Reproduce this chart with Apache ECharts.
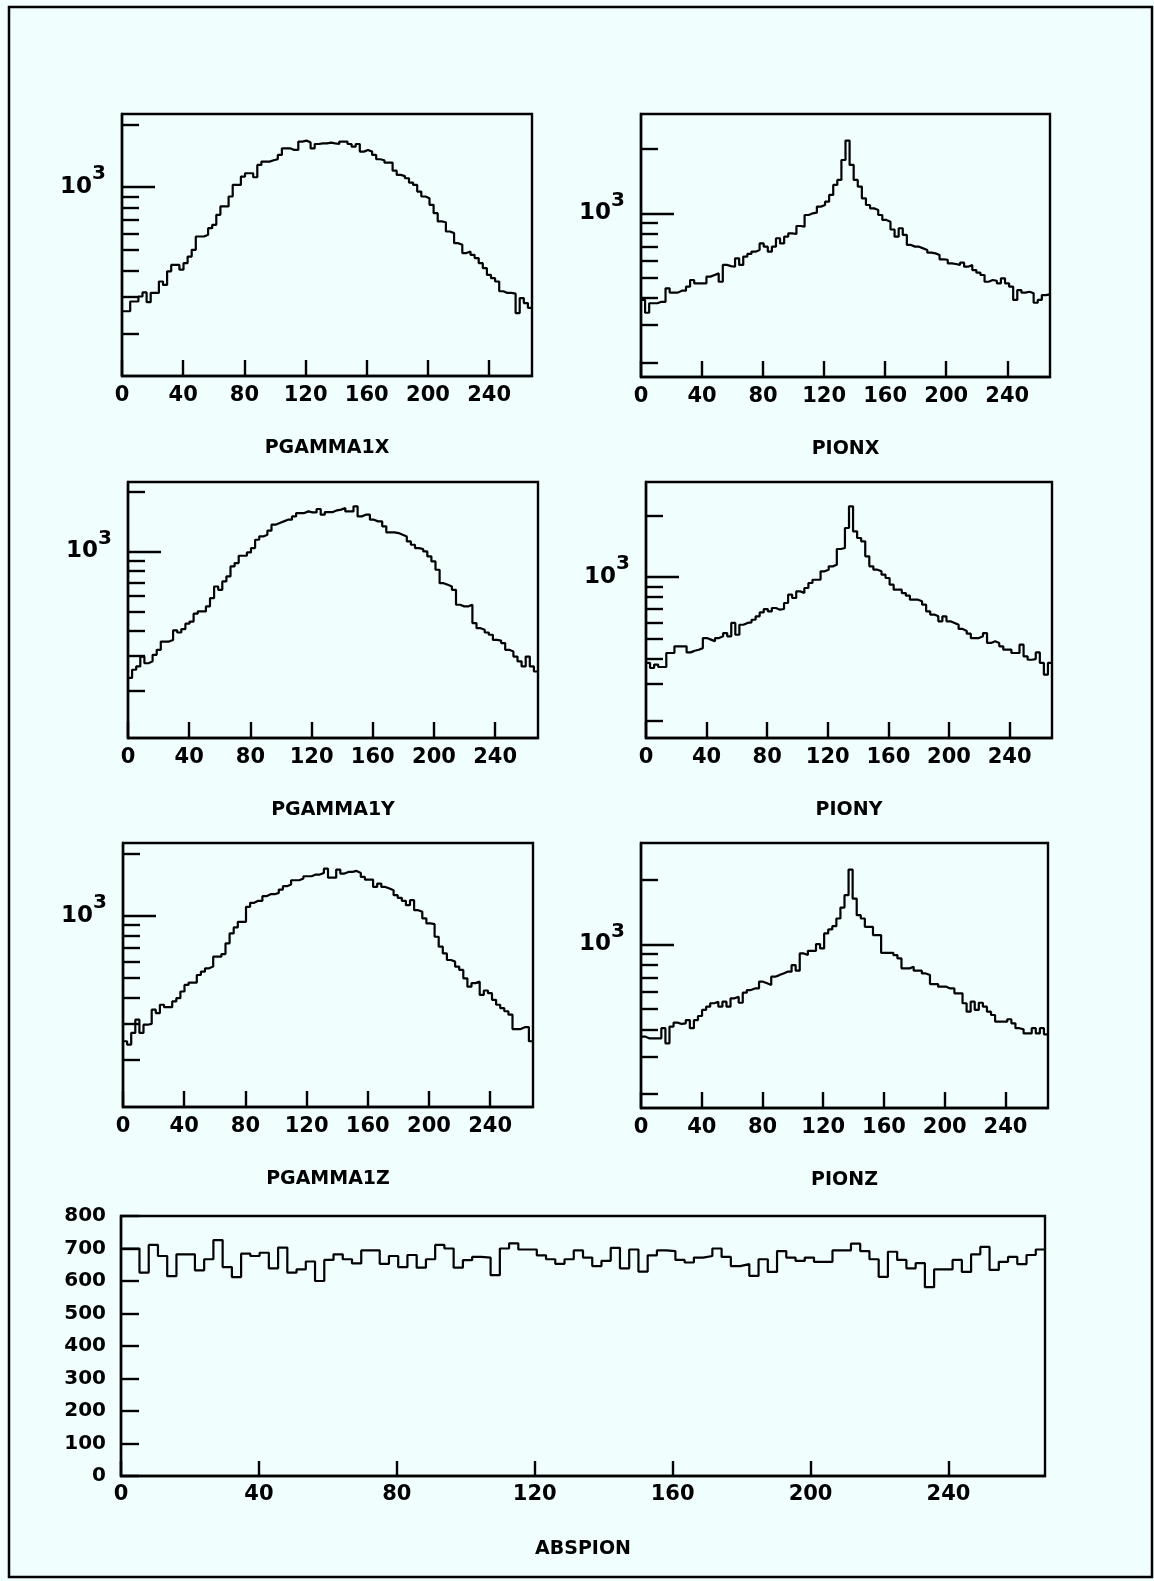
<!DOCTYPE html>
<html>
<head>
<meta charset="utf-8">
<script src="https://cdn.jsdelivr.net/npm/echarts@6/dist/echarts.min.js"></script>
<style>
  html, body { margin: 0; padding: 0; background: #F0FEFE; }
  #chart { width: 1154px; height: 1581px; }
</style>
</head>
<body>
<div id="chart"></div>
<script>
// ---- data -----------------------------------------------------------
const BIN_W = 2.68;          // 100 bins from 0 to 268
const X_MAX = 268;
const X_TICKS = [0, 40, 80, 120, 160, 200, 240];
const LOG_MAJOR = [1000];
const LOG_MINOR = [200, 300, 400, 500, 600, 700, 800, 900, 2000];

const PGAMMA1X = [
  255,255,284,284,300,314,282,312,312,354,
  341,396,425,425,403,433,466,502,581,581,
  592,637,661,738,809,809,903,1026,1026,1124,
  1166,1166,1116,1279,1326,1326,1345,1361,1427,1535,
  1535,1508,1508,1653,1671,1635,1535,1610,1622,1622,
  1635,1622,1610,1653,1653,1610,1563,1610,1480,1508,
  1480,1427,1361,1345,1312,1312,1200,1145,1130,1104,
  1052,1026,953,903,886,824,751,686,680,614,
  603,540,530,484,493,475,458,433,410,381,
  367,354,318,312,312,310,250,295,279,265
];
const PIONX = [
  393,342,379,379,385,385,445,425,425,434,
  434,453,487,470,470,470,505,514,523,478,
  573,566,562,615,573,627,645,661,673,723,
  698,661,698,764,723,777,806,800,872,866,
  982,1000,1007,1075,1094,1134,1219,1358,1433,1778,
  2191,1685,1433,1334,1176,1094,1055,1037,982,931,
  914,840,777,851,792,711,698,698,685,673,
  654,649,638,609,605,583,579,573,587,562,
  573,542,527,514,478,487,483,470,496,470,
  453,393,437,425,429,422,381,393,414,417
];
const PGAMMA1Y = [
  232,255,265,297,275,281,303,321,353,353,
  360,402,392,408,434,445,487,500,500,530,
  583,667,642,707,749,841,874,951,951,988,
  1039,1144,1189,1212,1270,1361,1387,1414,1442,1442,
  1498,1557,1557,1587,1569,1569,1631,1528,1575,1575,
  1606,1620,1650,1587,1587,1682,1498,1528,1528,1442,
  1414,1414,1335,1245,1245,1236,1212,1189,1122,1080,
  1039,1027,1000,944,891,809,693,680,667,642,
  540,530,530,540,437,412,405,392,382,360,
  357,347,321,315,297,281,265,297,265,250
];
const PIONY = [
  381,360,374,364,364,426,426,459,459,459,
  429,437,442,450,504,495,486,504,514,533,
  514,597,523,585,597,601,619,643,672,698,
  680,706,693,698,747,820,790,851,835,884,
  935,970,970,1066,1086,1127,1148,1370,1385,1734,
  2211,1670,1550,1493,1261,1127,1086,1066,1027,989,
  918,868,868,835,811,775,775,761,733,680,
  656,643,608,643,608,597,585,558,546,529,
  504,504,514,533,477,486,477,459,442,442,
  426,426,468,410,395,398,429,381,334,381
];
const PGAMMA1Z = [
  246,237,270,313,270,296,299,350,337,370,
  360,360,384,398,429,462,474,474,516,536,
  556,567,633,633,652,735,821,878,935,935,
  1105,1156,1182,1182,1245,1273,1273,1292,1341,1392,
  1418,1488,1488,1516,1556,1556,1585,1585,1615,1694,
  1532,1532,1676,1603,1633,1633,1651,1615,1544,1499,
  1499,1381,1434,1381,1356,1331,1259,1222,1182,1126,
  1191,1065,1045,971,918,911,791,708,657,610,
  599,567,546,497,453,471,479,413,434,421,
  391,370,356,344,331,282,282,288,288,246
];
const PIONZ = [
  371,364,364,364,364,406,345,413,431,425,
  428,443,406,443,463,494,512,531,540,512,
  540,512,560,570,534,595,612,623,623,670,
  658,646,707,719,732,746,746,801,754,908,
  892,934,934,1004,958,1126,1175,1218,1322,1488,
  1699,2238,1639,1370,1322,1209,1209,1106,1106,914,
  914,914,892,860,773,773,787,754,754,732,
  719,653,653,635,635,623,623,591,591,531,
  485,540,494,534,512,485,468,436,436,436,
  447,428,406,401,384,384,406,384,406,380
];
const ABSPION = [
  700,700,626,711,677,615,682,682,633,667,
  726,643,612,684,677,687,639,703,626,636,
  660,600,665,682,667,654,694,694,653,677,
  643,680,641,667,711,700,641,664,674,672,
  618,700,716,697,697,679,667,653,667,694,
  672,646,662,702,639,697,629,679,694,692,
  665,657,672,677,700,674,646,652,616,667,
  628,692,672,662,672,659,659,694,694,715,
  692,667,613,690,665,639,655,581,636,636,
  665,628,682,705,634,659,674,652,680,697
];

// ---- layout / style -------------------------------------------------
const FONT = 'DejaVu Sans';
const INK = '#000';
const LW = 2.4;

const PANELS = [
  { name: 'PGAMMA1X', values: PGAMMA1X, box: [122, 114, 410, 262], yr: [125, 2240] },
  { name: 'PIONX',    values: PIONX,    box: [641, 114, 409, 263], yr: [171, 2920] },
  { name: 'PGAMMA1Y', values: PGAMMA1Y, box: [128, 482, 410, 256], yr: [116, 2228] },
  { name: 'PIONY',    values: PIONY,    box: [646, 482, 406, 256], yr: [164, 2907] },
  { name: 'PGAMMA1Z', values: PGAMMA1Z, box: [123, 843, 410, 264], yr: [118, 2256] },
  { name: 'PIONZ',    values: PIONZ,    box: [641, 843, 407, 265], yr: [172, 2980] }
];

function histPoints(values) {
  const pts = values.map((v, i) => [i * BIN_W, v]);
  pts.push([values.length * BIN_W, values[values.length - 1]]);
  return pts;
}

const lineStyle = { color: INK, width: LW };
const dataLine = { color: INK, width: 2.2 };
const labelStyle = { color: INK, fontSize: 21, fontWeight: 'bold', fontFamily: FONT };
const nameStyle = { color: INK, fontSize: 19, fontWeight: 'bold', fontFamily: FONT };

const grids = [], xAxes = [], yAxes = [], series = [];

PANELS.forEach((p, i) => {
  const [l, t, w, h] = p.box;
  grids.push({ left: l, top: t, width: w, height: h, show: true,
               borderColor: INK, borderWidth: LW, backgroundColor: 'transparent' });
  xAxes.push({
    gridIndex: i, type: 'value', min: 0, max: X_MAX, position: 'bottom',
    axisLine: { show: true, lineStyle },
    axisTick: { show: true, inside: true, length: 16, customValues: X_TICKS, lineStyle },
    axisLabel: { customValues: X_TICKS, margin: 9, ...labelStyle },
    splitLine: { show: false },
    name: p.name, nameLocation: 'middle', nameGap: 63, nameTextStyle: nameStyle
  });
  const yMajor = yAxes.length;
  yAxes.push({
    gridIndex: i, type: 'log', logBase: 10, min: p.yr[0], max: p.yr[1], position: 'left',
    axisLine: { show: true, lineStyle },
    axisTick: { show: true, inside: true, length: 33, customValues: LOG_MAJOR, lineStyle },
    axisLabel: {
      customValues: LOG_MAJOR, margin: 16, color: INK,
      formatter: () => '{b|10}{s|3}',
      rich: {
        b: { fontSize: 23, fontWeight: 'bold', fontFamily: FONT, color: INK, lineHeight: 46, verticalAlign: 'middle' },
        s: { fontSize: 20, fontWeight: 'bold', fontFamily: FONT, color: INK, lineHeight: 46, verticalAlign: 'top' }
      }
    },
    splitLine: { show: false }
  });
  yAxes.push({
    gridIndex: i, type: 'log', logBase: 10, min: p.yr[0], max: p.yr[1], position: 'left',
    axisLine: { show: false },
    axisTick: { show: true, inside: true, length: 17, customValues: LOG_MINOR, lineStyle },
    axisLabel: { show: false },
    splitLine: { show: false }
  });
  series.push({
    type: 'line', step: 'end', symbol: 'none', xAxisIndex: i, yAxisIndex: yMajor,
    data: histPoints(p.values), lineStyle: dataLine, clip: true, animation: false
  });
});

// bottom linear panel
const ABS_INDEX = PANELS.length;
grids.push({ left: 121, top: 1216, width: 924, height: 260, show: true,
             borderColor: INK, borderWidth: LW, backgroundColor: 'transparent' });
xAxes.push({
  gridIndex: ABS_INDEX, type: 'value', min: 0, max: X_MAX, position: 'bottom',
  axisLine: { show: true, lineStyle },
  axisTick: { show: true, inside: true, length: 15, customValues: X_TICKS, lineStyle },
  axisLabel: { customValues: X_TICKS, margin: 8, ...labelStyle },
  splitLine: { show: false },
  name: 'ABSPION', nameLocation: 'middle', nameGap: 64, nameTextStyle: nameStyle
});
const absY = yAxes.length;
yAxes.push({
  gridIndex: ABS_INDEX, type: 'value', min: 0, max: 800, interval: 100, position: 'left',
  axisLine: { show: true, lineStyle },
  axisTick: { show: true, inside: true, length: 18, lineStyle },
  axisLabel: { margin: 15, ...labelStyle, fontSize: 20 },
  splitLine: { show: false }
});
series.push({
  type: 'line', step: 'end', symbol: 'none', xAxisIndex: ABS_INDEX, yAxisIndex: absY,
  data: histPoints(ABSPION), lineStyle: dataLine, clip: true, animation: false
});

const chart = echarts.init(document.getElementById('chart'), null, { renderer: 'canvas' });
chart.setOption({
  backgroundColor: '#F0FEFE',
  animation: false,
  grid: grids,
  xAxis: xAxes,
  yAxis: yAxes,
  series: series,
  graphic: [{
    type: 'rect', silent: true,
    shape: { x: 9, y: 7, width: 1143, height: 1570 },
    style: { fill: 'none', stroke: INK, lineWidth: 2.5 }
  }]
});
</script>
</body>
</html>
